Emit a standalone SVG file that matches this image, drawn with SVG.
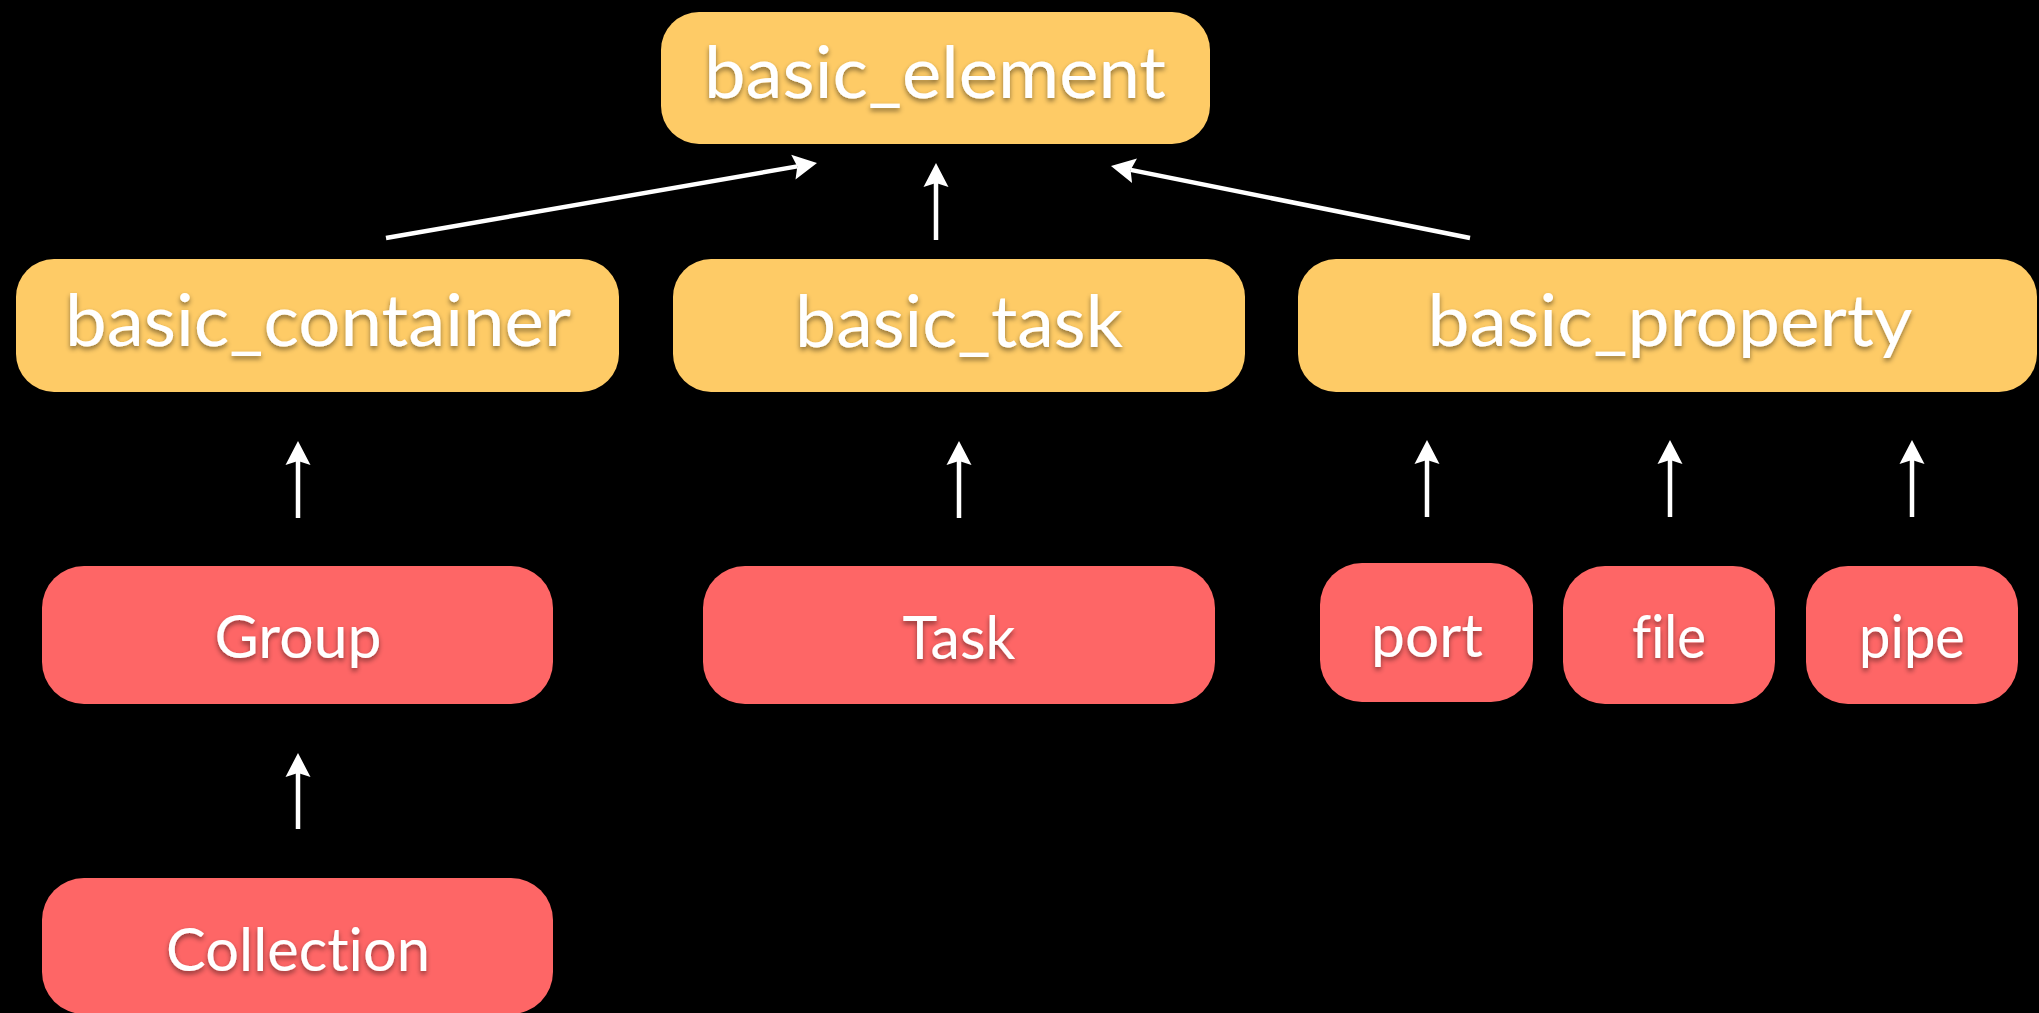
<svg xmlns="http://www.w3.org/2000/svg" width="2039" height="1013" viewBox="0 0 2039 1013">
  <defs>
    <style>
      .base { fill: #FECB66; }
      .leaf { fill: #FE6666; }
      .lbl { font-family: Lato, "Open Sans", "Liberation Sans", sans-serif; fill: #FFFFFF; text-anchor: middle; filter: url(#tshadow); font-variant-ligatures: none; font-feature-settings: "liga" 0, "clig" 0; }
      .big { font-size: 72px; }
      .small { font-size: 60px; }
      .conn { stroke: #FFFFFF; stroke-width: 4.5; fill: none; marker-end: url(#arrow); }
    </style>
    <filter id="tshadow" x="-10%" y="-30%" width="120%" height="160%">
      <feDropShadow dx="0" dy="3" stdDeviation="2.5" flood-color="#000000" flood-opacity="0.45"/>
    </filter>
    <marker id="arrow" markerUnits="userSpaceOnUse" markerWidth="30" markerHeight="30" viewBox="-2 -15 30 30" refX="4" refY="0" orient="auto">
      <path d="M24,0 L0,-12.5 L4,0 L0,12.5 Z" fill="#FFFFFF"/>
    </marker>
  </defs>
  <rect x="0" y="0" width="2039" height="1013" fill="#000000"/>

  <g id="connectors">
    <line class="conn" x1="386" y1="238" x2="797.3" y2="166.4"/>
    <line class="conn" x1="936" y1="240" x2="936" y2="183"/>
    <line class="conn" x1="1470" y1="238" x2="1130.6" y2="169.9"/>
    <line class="conn" x1="298" y1="518" x2="298" y2="461"/>
    <line class="conn" x1="959" y1="518" x2="959" y2="461"/>
    <line class="conn" x1="1427" y1="517" x2="1427" y2="460"/>
    <line class="conn" x1="1670" y1="517" x2="1670" y2="460"/>
    <line class="conn" x1="1912" y1="517" x2="1912" y2="460"/>
    <line class="conn" x1="298" y1="829" x2="298" y2="773"/>
  </g>

  <g id="basic_element">
    <rect class="base" x="661" y="12" width="549" height="132" rx="38" ry="38"/>
    <text class="lbl big" x="935" y="98" textLength="462" lengthAdjust="spacingAndGlyphs">basic_element</text>
  </g>
  <g id="basic_container">
    <rect class="base" x="16" y="259" width="603" height="133" rx="38" ry="38"/>
    <text class="lbl big" x="318" y="346" textLength="506" lengthAdjust="spacingAndGlyphs">basic_container</text>
  </g>
  <g id="basic_task">
    <rect class="base" x="673" y="259" width="572" height="133" rx="38" ry="38"/>
    <text class="lbl big" x="959" y="347" textLength="328" lengthAdjust="spacingAndGlyphs">basic_task</text>
  </g>
  <g id="basic_property">
    <rect class="base" x="1298" y="259" width="739" height="133" rx="38" ry="38"/>
    <text class="lbl big" x="1670" y="346" textLength="485" lengthAdjust="spacingAndGlyphs">basic_property</text>
  </g>
  <g id="Group">
    <rect class="leaf" x="42" y="566" width="511" height="138" rx="42" ry="42"/>
    <text class="lbl small" x="298" y="658" textLength="167" lengthAdjust="spacingAndGlyphs">Group</text>
  </g>
  <g id="Task">
    <rect class="leaf" x="703" y="566" width="512" height="138" rx="42" ry="42"/>
    <text class="lbl small" x="959" y="659" textLength="113" lengthAdjust="spacingAndGlyphs">Task</text>
  </g>
  <g id="port">
    <rect class="leaf" x="1320" y="563" width="213" height="139" rx="42" ry="42"/>
    <text class="lbl small" x="1427" y="657" textLength="112" lengthAdjust="spacingAndGlyphs">port</text>
  </g>
  <g id="file">
    <rect class="leaf" x="1563" y="566" width="212" height="138" rx="42" ry="42"/>
    <text class="lbl small" x="1669" y="658" textLength="74" lengthAdjust="spacingAndGlyphs">file</text>
  </g>
  <g id="pipe">
    <rect class="leaf" x="1806" y="566" width="212" height="138" rx="42" ry="42"/>
    <text class="lbl small" x="1912" y="658" textLength="106" lengthAdjust="spacingAndGlyphs">pipe</text>
  </g>
  <g id="Collection">
    <rect class="leaf" x="42" y="878" width="511" height="136" rx="42" ry="42"/>
    <text class="lbl small" x="298" y="971" textLength="264" lengthAdjust="spacingAndGlyphs">Collection</text>
  </g>
</svg>
